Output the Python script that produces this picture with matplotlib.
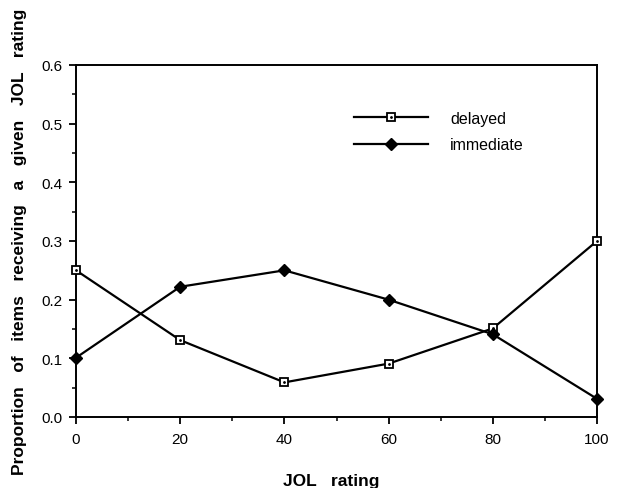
import matplotlib
matplotlib.use('Agg')
import matplotlib.pyplot as plt
from matplotlib.ticker import MultipleLocator

plt.rcParams['font.family'] = ['Liberation Sans', 'DejaVu Sans']

# JOL rating bins and the proportion of items in each
jol_rating = [0, 20, 40, 60, 80, 100]
delayed = [0.25, 0.131, 0.059, 0.091, 0.151, 0.30]
immediate = [0.101, 0.222, 0.25, 0.20, 0.141, 0.031]

fig = plt.figure(figsize=(6.17, 4.89), dpi=100)
ax = fig.add_axes([76 / 617, 71 / 489, 521 / 617, 352 / 489])

line_del, = ax.plot(jol_rating, delayed, color='black', linewidth=1.6,
                    marker='s', markersize=5.5, markerfacecolor='white',
                    markeredgecolor='black', markeredgewidth=1.3, clip_on=False, zorder=3)
dot_del, = ax.plot(jol_rating, delayed, linestyle='none', marker='.', markersize=2,
                   color='black', clip_on=False, zorder=4)
line_imm, = ax.plot(jol_rating, immediate, color='black', linewidth=1.6,
                    marker='D', markersize=6, markerfacecolor='black',
                    markeredgecolor='black', clip_on=False, zorder=3)

ax.set_xlim(0, 100)
ax.set_ylim(0, 0.6)
ax.xaxis.set_major_locator(MultipleLocator(20))
ax.xaxis.set_minor_locator(MultipleLocator(10))
ax.yaxis.set_major_locator(MultipleLocator(0.1))
ax.yaxis.set_minor_locator(MultipleLocator(0.05))
ax.yaxis.set_major_formatter(matplotlib.ticker.FormatStrFormatter('%.1f'))

ax.tick_params(which='major', direction='out', length=5, width=1.3, labelsize=11,
               top=False, right=False)
ax.tick_params(which='minor', direction='out', length=3, width=1.1, top=False, right=False)
ax.tick_params(axis='x', which='major', pad=6)
ax.tick_params(axis='y', which='major', pad=5)
for sp in ax.spines.values():
    sp.set_linewidth(1.4)

ax.set_xlabel('JOL   rating', fontsize=12.5, fontweight='bold', va='center')
ax.xaxis.set_label_coords(0.49, -0.179)
ax.set_ylabel('Proportion   of   items   receiving   a   given   JOL   rating',
              fontsize=12.5, fontweight='bold', va='center')
ax.yaxis.set_label_coords(-0.108, 0.5)

ax.legend([(line_del, dot_del), line_imm], ['delayed', 'immediate'],
          loc='center left', bbox_to_anchor=(0.534, 0.811), frameon=False,
          fontsize=11.5, handlelength=4.6, handletextpad=1.4, labelspacing=0.7,
          borderpad=0, borderaxespad=0, numpoints=1)

fig.savefig('out.png', dpi=100)
